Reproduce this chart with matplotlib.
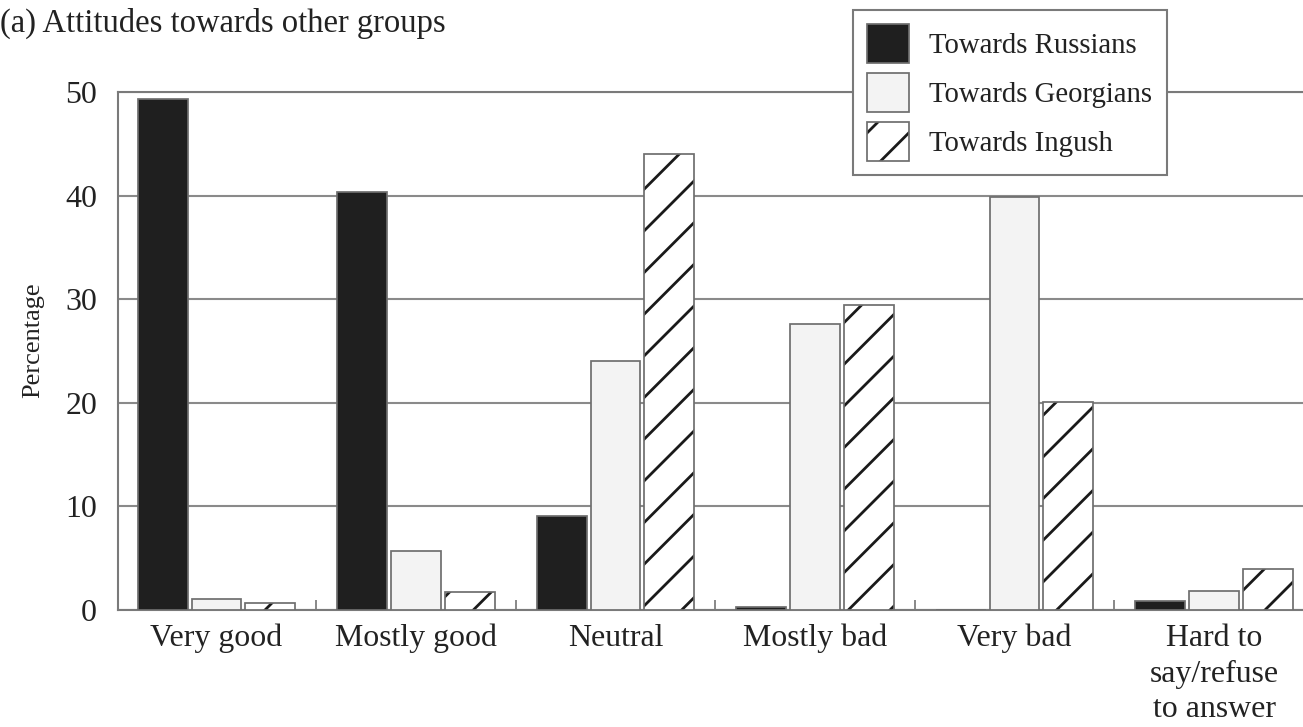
import numpy as np
import matplotlib.pyplot as plt

categories = ["Very good", "Mostly good", "Neutral", "Mostly bad", "Very bad",
              "Hard to\nsay/refuse\nto answer"]
russians = [49.3, 40.3, 9.1, 0.3, 0.0, 0.9]
georgians = [1.1, 5.7, 24.0, 27.6, 39.9, 1.8]
ingush = [0.7, 1.7, 44.0, 29.4, 20.1, 4.0]
series_labels = ["Towards Russians", "Towards Georgians", "Towards Ingush"]
y_ticks = [0, 10, 20, 30, 40, 50]

plt.rcParams['font.family'] = ['Liberation Serif', 'DejaVu Serif']
plt.rcParams['hatch.linewidth'] = 0.8

# high dpi so the hatch gets the wide spacing of the original
DPI = 250
W, H = 1303, 727
fig = plt.figure(figsize=(W / DPI, H / DPI), dpi=DPI)
ax = fig.add_axes([118 / W, (H - 610) / H, 1 - 118 / W, (610 - 92) / H])

grey = '#6e6e6e'
x = np.arange(len(categories))
w = 0.25
step = 0.27

b_rus = ax.bar(x - step, russians, w, color='#1f1f1f', edgecolor=grey, linewidth=0.5, zorder=3)
b_geo = ax.bar(x, georgians, w, color='#f3f3f3', edgecolor=grey, linewidth=0.5, zorder=3)
b_ing_h = ax.bar(x + step, ingush, w, color='white', edgecolor='#1a1a1a', linewidth=0,
                 hatch='//', zorder=3)
b_ing_o = ax.bar(x + step, ingush, w, fill=False, edgecolor=grey, linewidth=0.5, zorder=4)

ax.set_xlim(-0.494, 5.446)
ax.set_ylim(0, 50)
ax.set_yticks(y_ticks)
ax.yaxis.grid(True, color='#8a8a8a', linewidth=0.6)
ax.set_axisbelow(True)
ax.spines['right'].set_visible(False)
for s in ['left', 'bottom', 'top']:
    ax.spines[s].set_color('#7a7a7a')
    ax.spines[s].set_linewidth(0.6)

ax.tick_params(axis='y', length=0, pad=6, labelsize=9.2, labelcolor='#222222')
ax.set_xticks(x, categories)
ax.tick_params(axis='x', which='major', length=0, pad=4, labelsize=9.2, labelcolor='#222222')
for lbl in ax.get_xticklabels():
    lbl.set_linespacing(1.3)
ax.set_xticks(np.arange(0.5, 5), minor=True)
ax.tick_params(axis='x', which='minor', direction='in', length=2.8, width=0.5, color='#7a7a7a')

ax.set_ylabel("Percentage", fontsize=7.6, color='#222222')
ax.yaxis.set_label_coords(-0.062, 0.52)

fig.text(0.0, 1 - 8 / H, "(a) Attitudes towards other groups", ha='left', va='top',
         fontsize=9.4, color='#222222')

leg = fig.legend([b_rus, b_geo, (b_ing_h, b_ing_o)], series_labels, loc='upper left',
                 bbox_to_anchor=(853 / W, 1 - 10 / H), bbox_transform=fig.transFigure,
                 frameon=True, fancybox=False, framealpha=1, edgecolor='#7a7a7a',
                 fontsize=8.3, handlelength=1.45, handleheight=1.7, labelspacing=0.34,
                 handletextpad=0.7, borderpad=0.5, borderaxespad=0)
leg.get_frame().set_linewidth(0.6)
for t in leg.get_texts():
    t.set_color('#222222')

fig.savefig('out.png', dpi=DPI)
